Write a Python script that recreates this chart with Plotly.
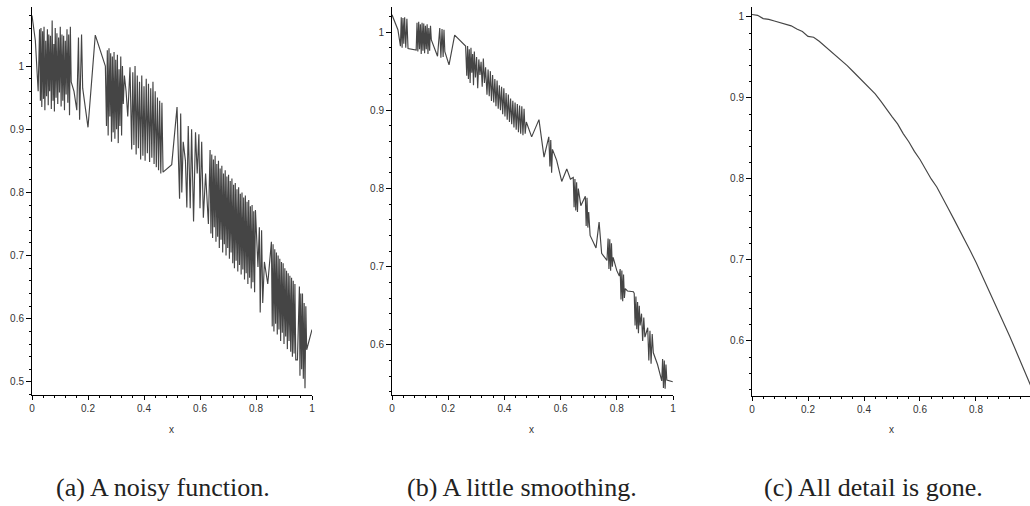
import plotly.graph_objects as go

# ---------------- data ----------------
# (a) noisy function
a_x = [0.000, 0.012, 0.022,
       0.027, 0.030, 0.032, 0.035, 0.038, 0.041, 0.043, 0.046, 0.049, 0.052,
       0.055, 0.058, 0.060, 0.063, 0.066, 0.069, 0.072, 0.075, 0.078, 0.080,
       0.083, 0.086, 0.089, 0.092, 0.095, 0.098, 0.101, 0.104, 0.107, 0.110,
       0.113, 0.116, 0.119, 0.122, 0.125, 0.128, 0.131, 0.134, 0.137, 0.140,
       0.150, 0.160, 0.166, 0.170, 0.177, 0.181, 0.200, 0.226, 0.262,
       0.266, 0.269, 0.272, 0.275, 0.278, 0.281, 0.284, 0.287, 0.290, 0.293,
       0.296, 0.299, 0.302, 0.305, 0.308, 0.311, 0.314, 0.317, 0.320, 0.323,
       0.326, 0.330, 0.336, 0.342, 0.350, 0.356, 0.360, 0.364, 0.368, 0.372,
       0.376, 0.380, 0.384, 0.388, 0.392, 0.396, 0.400, 0.404, 0.408, 0.412,
       0.416, 0.420, 0.424, 0.428, 0.432, 0.436, 0.440, 0.444, 0.448, 0.452,
       0.456, 0.460, 0.464, 0.468,
       0.499, 0.518, 0.527, 0.531, 0.535, 0.540, 0.548, 0.553, 0.558, 0.565,
       0.570, 0.577, 0.584, 0.590, 0.596, 0.600, 0.606, 0.612, 0.620, 0.630,
       0.636, 0.639, 0.642, 0.645, 0.648, 0.651, 0.654, 0.657, 0.660, 0.663,
       0.666, 0.669, 0.672, 0.675, 0.678, 0.681, 0.684, 0.687, 0.690, 0.693,
       0.696, 0.699, 0.702, 0.705, 0.708, 0.711, 0.714, 0.717, 0.720, 0.723,
       0.726, 0.729, 0.732, 0.735, 0.738, 0.741, 0.744, 0.747, 0.750, 0.753,
       0.756, 0.759, 0.762, 0.765, 0.768, 0.771, 0.774, 0.777, 0.780, 0.783,
       0.786, 0.789, 0.792, 0.795, 0.798,
       0.807, 0.812, 0.815, 0.820, 0.824, 0.830, 0.842,
       0.855, 0.858, 0.861, 0.864, 0.867, 0.870, 0.873, 0.876, 0.879, 0.882,
       0.885, 0.888, 0.891, 0.894, 0.897, 0.900, 0.903, 0.906, 0.909, 0.912,
       0.915, 0.918, 0.921, 0.924, 0.927, 0.930, 0.933, 0.936, 0.939, 0.942,
       0.948, 0.955, 0.957, 0.960, 0.963, 0.966, 0.969, 0.972, 0.975, 0.978,
       0.981, 1.000]
a_y = [1.080, 1.040, 0.960,
       1.058, 0.945, 1.060, 0.935, 1.055, 0.948, 1.062, 0.930, 1.040, 0.952,
       1.058, 0.938, 1.050, 0.960, 1.048, 0.932, 1.072, 0.945, 1.035, 0.928,
       1.060, 0.950, 1.052, 0.940, 1.045, 0.958, 1.062, 0.936, 1.050, 0.945,
       1.048, 0.930, 1.040, 0.955, 1.058, 0.942, 1.050, 0.922, 1.062, 0.975,
       0.960, 0.930, 1.045, 0.915, 1.050, 0.965, 0.903, 1.049, 1.000,
       0.905, 1.025, 0.890, 1.028, 0.920, 1.020, 0.880, 1.015, 0.895, 1.022,
       0.885, 1.010, 0.900, 1.018, 0.878, 0.995, 0.905, 1.015, 0.890, 1.000,
       0.940, 0.985, 0.960, 0.920, 0.998, 0.868, 0.990, 0.875, 1.000, 0.860,
       0.985, 0.870, 0.975, 0.852, 0.985, 0.858, 0.968, 0.850, 0.980, 0.862,
       0.972, 0.848, 0.965, 0.855, 0.975, 0.845, 0.960, 0.840, 0.950, 0.835,
       0.945, 0.830, 0.942, 0.832,
       0.844, 0.935, 0.790, 0.925, 0.800, 0.880, 0.850, 0.776, 0.905, 0.775,
       0.900, 0.754, 0.895, 0.830, 0.892, 0.775, 0.880, 0.760, 0.830, 0.750,
       0.867, 0.735, 0.860, 0.728, 0.852, 0.745, 0.858, 0.722, 0.845, 0.730,
       0.850, 0.712, 0.838, 0.725, 0.842, 0.705, 0.830, 0.718, 0.835, 0.700,
       0.825, 0.712, 0.828, 0.695, 0.818, 0.705, 0.822, 0.688, 0.812, 0.680,
       0.815, 0.692, 0.805, 0.675, 0.808, 0.685, 0.798, 0.670, 0.800, 0.678,
       0.792, 0.662, 0.795, 0.672, 0.785, 0.655, 0.788, 0.665, 0.778, 0.648,
       0.780, 0.658, 0.770, 0.642, 0.772,
       0.682, 0.745, 0.610, 0.740, 0.625, 0.690, 0.655,
       0.722, 0.588, 0.718, 0.580, 0.710, 0.592, 0.705, 0.575, 0.700, 0.583,
       0.695, 0.565, 0.690, 0.578, 0.688, 0.560, 0.680, 0.572, 0.676, 0.552,
       0.672, 0.565, 0.668, 0.548, 0.665, 0.540, 0.660, 0.545, 0.655, 0.535,
       0.535, 0.651, 0.510, 0.640, 0.520, 0.640, 0.505, 0.625, 0.490, 0.620,
       0.551, 0.583]

# (b) a little smoothing
b_x = [0.000, 0.021, 0.030,
       0.033, 0.036, 0.039, 0.042, 0.045, 0.049, 0.053, 0.057,
       0.086,
       0.089, 0.092, 0.095, 0.098, 0.101, 0.104, 0.107, 0.110, 0.113,
       0.116, 0.119, 0.122, 0.125, 0.128, 0.131, 0.134, 0.137, 0.140,
       0.162,
       0.170, 0.174, 0.178, 0.182, 0.185, 0.188,
       0.203, 0.223, 0.262,
       0.266, 0.269, 0.272, 0.275, 0.278, 0.281, 0.284, 0.287, 0.290, 0.293,
       0.297, 0.301, 0.305, 0.309, 0.313, 0.317, 0.321, 0.325, 0.329, 0.333,
       0.338, 0.342, 0.346, 0.350, 0.354, 0.358, 0.362, 0.366, 0.370, 0.374,
       0.378, 0.382, 0.386, 0.390, 0.394, 0.398, 0.402, 0.406, 0.410, 0.414,
       0.418, 0.422, 0.426, 0.430, 0.434, 0.438, 0.442, 0.446, 0.450, 0.454,
       0.458, 0.462, 0.466, 0.470, 0.474, 0.478,
       0.497, 0.523, 0.541, 0.558, 0.562, 0.565, 0.568, 0.571, 0.586, 0.604,
       0.622, 0.635,
       0.645, 0.648, 0.651, 0.654, 0.657, 0.660, 0.663, 0.672,
       0.688, 0.691, 0.694, 0.697, 0.700,
       0.705, 0.726, 0.737, 0.746, 0.765,
       0.769, 0.772, 0.775, 0.778, 0.781, 0.784, 0.787,
       0.800, 0.809,
       0.812, 0.815, 0.818, 0.821, 0.824, 0.827, 0.830,
       0.838, 0.859,
       0.862, 0.865, 0.868, 0.871, 0.874, 0.877, 0.880, 0.883,
       0.888, 0.892, 0.896, 0.900,
       0.910, 0.914, 0.918, 0.922, 0.926, 0.930,
       0.945, 0.960, 0.963, 0.966, 0.969, 0.972, 0.975, 0.978, 0.999]
b_y = [1.022, 1.003, 0.982,
       1.019, 0.980, 1.018, 0.985, 1.019, 0.980, 1.017, 0.979,
       0.977,
       1.012, 0.975, 1.013, 0.978, 1.010, 0.972, 1.012, 0.976, 1.011,
       0.973, 1.008, 0.978, 1.010, 0.972, 1.005, 0.976, 1.008, 0.990,
       0.969,
       1.005, 0.967, 1.004, 0.968, 1.003, 0.975,
       0.958, 0.996, 0.982,
       0.944, 0.982, 0.940, 0.978, 0.935, 0.980, 0.948, 0.972, 0.932, 0.975,
       0.942, 0.968, 0.928, 0.965, 0.945, 0.962, 0.930, 0.966, 0.935, 0.955,
       0.920, 0.952, 0.918, 0.950, 0.912, 0.945, 0.910, 0.940, 0.905, 0.938,
       0.902, 0.932, 0.900, 0.930, 0.895, 0.928, 0.892, 0.922, 0.888, 0.920,
       0.885, 0.915, 0.882, 0.912, 0.878, 0.910, 0.875, 0.908, 0.872, 0.906,
       0.870, 0.905, 0.868, 0.902, 0.870, 0.885,
       0.866, 0.888, 0.840, 0.866, 0.828, 0.862, 0.820, 0.850, 0.836, 0.809,
       0.825, 0.812,
       0.814, 0.776, 0.812, 0.772, 0.808, 0.770, 0.800, 0.778,
       0.790, 0.752, 0.788, 0.750, 0.770,
       0.740, 0.724, 0.757, 0.717, 0.708,
       0.736, 0.697, 0.735, 0.695, 0.730, 0.700, 0.712,
       0.695, 0.688,
       0.697, 0.658, 0.695, 0.656, 0.690, 0.660, 0.672,
       0.669, 0.668,
       0.666, 0.625, 0.662, 0.620, 0.655, 0.615, 0.650, 0.625,
       0.640, 0.605, 0.635, 0.610,
       0.622, 0.580, 0.618, 0.576, 0.614, 0.590,
       0.575, 0.554, 0.582, 0.545, 0.580, 0.544, 0.575, 0.555, 0.553]

# (c) all detail is gone
c_x = [0.00, 0.02, 0.04, 0.06, 0.08, 0.10, 0.12, 0.14, 0.16, 0.18,
       0.20, 0.22, 0.24, 0.26, 0.28, 0.30, 0.32, 0.34, 0.36, 0.38,
       0.40, 0.42, 0.44, 0.46, 0.48, 0.50, 0.52, 0.54, 0.56, 0.58,
       0.60, 0.62, 0.64, 0.66, 0.68, 0.70, 0.72, 0.74, 0.76, 0.78,
       0.80, 0.82, 0.84, 0.86, 0.88, 0.90, 0.92, 0.94, 0.96, 0.98, 0.995]
c_y = [1.003, 1.002, 0.998, 0.997, 0.995, 0.993, 0.991, 0.989, 0.985, 0.982,
       0.976, 0.975, 0.970, 0.964, 0.958, 0.953, 0.947, 0.940, 0.933, 0.926,
       0.919, 0.913, 0.905, 0.896, 0.886, 0.877, 0.868, 0.856, 0.846, 0.834,
       0.824, 0.812, 0.800, 0.790, 0.776, 0.764, 0.751, 0.738, 0.724, 0.711,
       0.697, 0.682, 0.668, 0.653, 0.637, 0.622, 0.606, 0.590, 0.573, 0.557, 0.545]

captions = ["(a) A noisy function.", "(b) A little smoothing.", "(c) All detail is gone."]
x_title = "x"

# ---------------- figure ----------------
W, H = 1030, 506
line_style = dict(color="#454545", width=1.15)

fig = go.Figure()
fig.add_trace(go.Scatter(x=a_x, y=a_y, mode="lines", line=line_style, xaxis="x", yaxis="y"))
fig.add_trace(go.Scatter(x=b_x, y=b_y, mode="lines", line=line_style, xaxis="x2", yaxis="y2"))
fig.add_trace(go.Scatter(x=c_x, y=c_y, mode="lines", line=line_style, xaxis="x3", yaxis="y3"))

tickfont = dict(family="Liberation Sans, Arial, sans-serif", size=10, color="#333333")


def xax(d0, d1, rng, anchor):
    return dict(domain=[d0 / W, d1 / W], range=rng, anchor=anchor, automargin=False,
                showline=True, linecolor="black", linewidth=1,
                ticks="outside", ticklen=4, tickwidth=1, tickcolor="black",
                tick0=0, dtick=0.2, showgrid=False, zeroline=False,
                tickfont=tickfont,
                minor=dict(ticks="outside", ticklen=2, tickcolor="black", dtick=0.04, showgrid=False))


def yax(top_px, bot_px, rng, anchor):
    return dict(domain=[1 - bot_px / H, 1 - top_px / H], range=rng, anchor=anchor, automargin=False,
                showline=True, linecolor="black", linewidth=1,
                ticks="outside", ticklen=5, tickwidth=1, tickcolor="black",
                tick0=0, dtick=0.1, showgrid=False, zeroline=False,
                tickfont=tickfont,
                minor=dict(ticks="outside", ticklen=2, tickcolor="black", dtick=0.02, showgrid=False))


fig.update_layout(
    width=W, height=H,
    margin=dict(l=0, r=0, t=0, b=0, autoexpand=False),
    paper_bgcolor="white", plot_bgcolor="white",
    showlegend=False,
    xaxis=xax(32, 312, [0, 1.0], "y"),
    yaxis=yax(7, 395, [0.4794, 1.0934], "x"),
    xaxis2=xax(392, 673, [0, 1.0], "y2"),
    yaxis2=yax(7, 395, [0.536, 1.032], "x2"),
    xaxis3=xax(752, 1030, [0, 0.9929], "y3"),
    yaxis3=yax(7, 396, [0.532, 1.0123], "x3"),
)

# axis titles "x"
for cx in (171, 531, 891):
    fig.add_annotation(x=cx / W, y=1 - 429 / H, xref="paper", yref="paper",
                       text=x_title, showarrow=False, xanchor="center", yanchor="middle",
                       font=dict(family="Liberation Sans, Arial, sans-serif", size=10, color="#333333"))

# captions
for cx, txt in zip((163, 522, 873), captions):
    fig.add_annotation(x=cx / W, y=1 - 487 / H, xref="paper", yref="paper",
                       text=txt, showarrow=False, xanchor="center", yanchor="middle",
                       font=dict(family="Liberation Serif, Times New Roman, serif", size=26, color="#222222"))

fig.write_html("out.html",
               config={"displayModeBar": False},
               post_script="document.body.style.margin='0';document.body.style.padding='0';"
                           "document.body.style.overflow='hidden';")
